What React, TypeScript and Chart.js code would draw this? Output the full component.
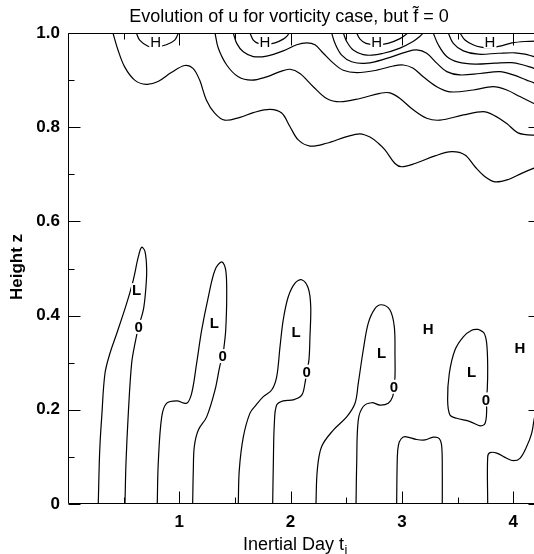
import React, { useEffect, useRef } from "react";
import { Chart, registerables } from "chart.js";
Chart.register(...registerables);

// ---------- text ----------
const chartTitle = "Evolution of u for vorticity case, but f\u0303 = 0";
const xAxisTitle = "Inertial Day t";
const xAxisSub = "i";
const yAxisTitle = "Height z";

// ---------- axes ----------
const xMin = 0;
const xMax = 4.25;
const yMin = 0;
const yMax = 1;
const xTickValues = [1, 2, 3, 4];
const xTickLabels = ["1", "2", "3", "4"];
const xMinorTicks = [0.5, 1.5, 2.5, 3.5];
const yTickValues = [0, 0.2, 0.4, 0.6, 0.8, 1.0];
const yTickLabels = ["0", "0.2", "0.4", "0.6", "0.8", "1.0"];
const yMinorTicks = [0.1, 0.3, 0.5, 0.7, 0.9];

// ---------- contour lines (x = inertial day, y = height) ----------
type P = [number, number];

// upper (positive u) contours
const upperA: P[] = [
  [0.404, 1.0], [0.449, 0.964], [0.509, 0.928], [0.599, 0.9], [0.703, 0.891], [0.809, 0.897],
  [0.928, 0.916], [1.049, 0.931], [1.123, 0.925], [1.183, 0.9], [1.243, 0.858], [1.318, 0.83],
  [1.408, 0.815], [1.545, 0.821], [1.665, 0.831], [1.815, 0.838], [1.92, 0.83], [1.995, 0.801],
  [2.069, 0.773], [2.174, 0.76], [2.324, 0.766], [2.504, 0.78], [2.624, 0.786], [2.713, 0.779],
  [2.788, 0.766], [2.848, 0.752], [2.938, 0.723], [2.998, 0.716], [3.118, 0.723], [3.297, 0.739],
  [3.447, 0.748], [3.567, 0.741], [3.657, 0.716], [3.747, 0.695], [3.836, 0.684], [3.956, 0.689],
  [4.076, 0.702], [4.187, 0.713], [4.25, 0.718],
];
const upperB: P[] = [
  [1.321, 1.0], [1.35, 0.968], [1.426, 0.932], [1.53, 0.907], [1.65, 0.9], [1.785, 0.907],
  [1.905, 0.918], [1.995, 0.923], [2.084, 0.914], [2.204, 0.886], [2.324, 0.861], [2.444, 0.854],
  [2.624, 0.861], [2.803, 0.872], [2.893, 0.873], [2.983, 0.861], [3.102, 0.837], [3.223, 0.819],
  [3.342, 0.815], [3.552, 0.826], [3.731, 0.833], [3.821, 0.826], [3.942, 0.808], [4.043, 0.788],
  [4.187, 0.783], [4.25, 0.786],
];
const upperC: P[] = [
  [1.485, 1.0], [1.516, 0.978], [1.575, 0.96], [1.665, 0.95], [1.785, 0.951], [1.934, 0.962],
  [2.055, 0.975], [2.145, 0.979], [2.219, 0.975], [2.294, 0.957], [2.384, 0.936], [2.473, 0.921],
  [2.594, 0.916], [2.774, 0.921], [2.923, 0.93], [3.013, 0.932], [3.102, 0.925], [3.192, 0.907],
  [3.313, 0.886], [3.432, 0.875], [3.642, 0.879], [3.821, 0.886], [3.942, 0.879], [4.061, 0.865],
  [4.181, 0.851], [4.25, 0.845],
];
const upperD: P[] = [
  [2.369, 1.0], [2.399, 0.978], [2.459, 0.953], [2.549, 0.939], [2.684, 0.936], [2.863, 0.946],
  [3.043, 0.96], [3.133, 0.964], [3.223, 0.957], [3.313, 0.936], [3.403, 0.918], [3.522, 0.911],
  [3.702, 0.914], [3.881, 0.918], [4.001, 0.911], [4.121, 0.9], [4.187, 0.894], [4.25, 0.89],
];
const upperF: P[] = [
  [3.282, 1.0], [3.327, 0.975], [3.403, 0.95], [3.507, 0.938], [3.657, 0.934], [3.836, 0.936],
  [3.987, 0.937], [4.091, 0.932], [4.187, 0.925], [4.25, 0.921],
];
const upperG: P[] = [
  [3.417, 1.0], [3.462, 0.978], [3.552, 0.962], [3.686, 0.955], [3.866, 0.957], [4.016, 0.958],
  [4.106, 0.955], [4.187, 0.95], [4.25, 0.947],
];
const upperH: P[] = [
  [3.522, 1.0], [3.567, 0.985], [3.639, 0.975], [3.711, 0.97], [3.792, 0.969], [3.881, 0.972],
  [3.989, 0.979], [4.106, 0.982], [4.25, 0.983],
];
// arcs closing on the top boundary around each H
const arcH1: P[] = [
  [0.614, 1.0], [0.644, 0.985], [0.719, 0.972], [0.793, 0.97], [0.883, 0.975], [0.959, 0.985], [0.993, 1.0],
];
const arcH2: P[] = [
  [1.635, 1.0], [1.665, 0.985], [1.71, 0.978], [1.779, 0.976], [1.86, 0.979], [1.934, 0.987], [1.97, 0.994], [1.986, 1.0],
];
const arcH3outer: P[] = [
  [2.474, 1.0], [2.504, 0.982], [2.563, 0.964], [2.684, 0.953], [2.833, 0.957], [2.983, 0.968],
  [3.1, 0.982], [3.163, 0.993], [3.19, 1.0],
];
const arcH3inner: P[] = [
  [2.594, 1.0], [2.624, 0.987], [2.677, 0.978], [2.774, 0.975], [2.875, 0.978], [2.983, 0.988], [3.055, 1.0],
];

// lower (zero) contours
const zero1: P[] = [
  [0.272, 0], [0.281, 0.087], [0.288, 0.129], [0.303, 0.185], [0.332, 0.277], [0.377, 0.32],
  [0.438, 0.362], [0.527, 0.426], [0.587, 0.476], [0.632, 0.525], [0.662, 0.545], [0.692, 0.536],
  [0.707, 0.497], [0.698, 0.454], [0.677, 0.412], [0.634, 0.376], [0.602, 0.341], [0.572, 0.299],
  [0.542, 0.193], [0.521, 0.087], [0.512, 0],
];
const zero2: P[] = [
  [0.802, 0], [0.811, 0.087], [0.842, 0.185], [0.887, 0.214], [0.977, 0.219], [1.066, 0.214],
  [1.111, 0.235], [1.156, 0.299], [1.201, 0.369], [1.261, 0.44], [1.321, 0.497], [1.381, 0.514],
  [1.417, 0.497], [1.426, 0.44], [1.417, 0.369], [1.402, 0.334], [1.39, 0.314], [1.366, 0.295],
  [1.321, 0.242], [1.246, 0.185], [1.171, 0.157], [1.135, 0.122], [1.126, 0.072], [1.12, 0],
];
const zero3: P[] = [
  [1.53, 0], [1.539, 0.072], [1.575, 0.142], [1.635, 0.193], [1.689, 0.21], [1.755, 0.228],
  [1.83, 0.242], [1.875, 0.27], [1.905, 0.334], [1.934, 0.391], [1.979, 0.44], [2.04, 0.469],
  [2.1, 0.476], [2.159, 0.458], [2.181, 0.419], [2.174, 0.355], [2.165, 0.306], [2.145, 0.281],
  [2.129, 0.256], [2.1, 0.231], [2.024, 0.221], [1.934, 0.219], [1.875, 0.21], [1.854, 0.171],
  [1.845, 0.086], [1.839, 0],
];
const zero4: P[] = [
  [2.228, 0], [2.24, 0.072], [2.279, 0.122], [2.384, 0.157], [2.504, 0.185], [2.579, 0.214],
  [2.608, 0.256], [2.653, 0.327], [2.698, 0.384], [2.758, 0.415], [2.818, 0.423], [2.893, 0.412],
  [2.932, 0.376], [2.938, 0.313], [2.938, 0.27], [2.929, 0.249], [2.917, 0.228], [2.878, 0.214],
  [2.803, 0.21], [2.729, 0.215], [2.653, 0.207], [2.608, 0.178], [2.594, 0.086], [2.588, 0],
];
const zero5: P[] = [
  [2.953, 0], [2.959, 0.1], [2.969, 0.125], [2.992, 0.138], [3.028, 0.143], [3.133, 0.137],
  [3.208, 0.136], [3.282, 0.142], [3.336, 0.139], [3.358, 0.122], [3.363, 0.065], [3.363, 0],
];
const zero6: P[] = [
  [3.686, 0.371], [3.738, 0.363], [3.762, 0.341], [3.771, 0.292], [3.767, 0.242], [3.756, 0.222],
  [3.762, 0.2], [3.747, 0.171], [3.702, 0.166], [3.612, 0.175], [3.492, 0.182], [3.432, 0.189],
  [3.411, 0.221], [3.426, 0.277], [3.477, 0.327], [3.552, 0.355], [3.627, 0.369], [3.686, 0.371],
];
const zero7: P[] = [
  [3.771, 0], [3.771, 0.1], [3.792, 0.109], [3.852, 0.108], [3.942, 0.097], [4.001, 0.092],
  [4.061, 0.097], [4.121, 0.122], [4.166, 0.15], [4.187, 0.178], [4.223, 0.221],
];

const contourLines: P[][] = [
  upperA, upperB, upperC, upperD, upperF, upperG, upperH,
  arcH1, arcH2, arcH3outer, arcH3inner,
  zero1, zero2, zero3, zero4, zero5, zero6, zero7,
];

// ---------- contour labels ----------
const labelTexts = [
  "H", "H", "H", "H",
  "L", "0", "L", "0", "L", "0", "L", "0", "L", "0",
  "H", "H",
];
const labelXs = [
  0.788, 1.77, 2.774, 3.792,
  0.617, 0.634, 1.314, 1.39, 2.049, 2.145, 2.818, 2.929, 3.627, 3.756,
  3.237, 4.061,
];
const labelYs = [
  0.982, 0.982, 0.982, 0.982,
  0.454, 0.376, 0.384, 0.314, 0.366, 0.281, 0.32, 0.249, 0.281, 0.222,
  0.371, 0.331,
];

const FONT = '"Liberation Sans", Arial, Helvetica, sans-serif';

const decorPlugin = {
  id: "decor",
  afterDatasetsDraw(chart: any) {
    const { ctx, chartArea: a, scales } = chart;
    const xs = scales.x;
    const ys = scales.y;
    ctx.save();
    ctx.strokeStyle = "#000";
    ctx.lineWidth = 1;
    const L = Math.round(a.left) + 0.5;
    const R = Math.round(a.right) - 0.5;
    const T = Math.round(a.top) + 0.5;
    const B = Math.round(a.bottom) - 0.5;
    ctx.beginPath();
    ctx.moveTo(L, T); ctx.lineTo(R, T); ctx.lineTo(R, B); ctx.lineTo(L, B); ctx.closePath();
    ctx.stroke();

    const major = 12;
    const minor = 6;
    ctx.beginPath();
    const xt = (v: number, len: number) => {
      const p = Math.round(xs.getPixelForValue(v)) + 0.5;
      ctx.moveTo(p, B); ctx.lineTo(p, B - len);
      ctx.moveTo(p, T); ctx.lineTo(p, T + len);
    };
    const yt = (v: number, len: number) => {
      const p = Math.round(ys.getPixelForValue(v)) + 0.5;
      ctx.moveTo(L, p); ctx.lineTo(L + len, p);
      ctx.moveTo(R, p); ctx.lineTo(R - len, p);
    };
    xTickValues.forEach((v) => xt(v, major));
    xMinorTicks.forEach((v) => xt(v, minor));
    yTickValues.forEach((v) => yt(v, major));
    yMinorTicks.forEach((v) => yt(v, minor));
    ctx.stroke();

    // contour labels with a white knock-out behind them
    ctx.textAlign = "center";
    ctx.textBaseline = "middle";
    labelTexts.forEach((t, i) => {
      const top = labelYs[i] > 0.9;
      ctx.font = top ? `15px ${FONT}` : `bold 15px ${FONT}`;
      const px = xs.getPixelForValue(labelXs[i]);
      const py = ys.getPixelForValue(labelYs[i]);
      const w = ctx.measureText(t).width;
      ctx.fillStyle = "#fff";
      ctx.fillRect(px - w / 2 - 1, py - 7, w + 2, 14);
      ctx.fillStyle = "#000";
      ctx.fillText(t, px, py + 1);
    });

    // titles
    ctx.fillStyle = "#000";
    ctx.font = `18px ${FONT}`;
    ctx.textAlign = "center";
    ctx.textBaseline = "middle";
    ctx.fillText(chartTitle, 289, 17);

    ctx.save();
    ctx.translate(17.5, 267);
    ctx.rotate(-Math.PI / 2);
    ctx.font = `bold 17px ${FONT}`;
    ctx.fillText(yAxisTitle, 0, 0);
    ctx.restore();

    ctx.font = `18px ${FONT}`;
    const w1 = ctx.measureText(xAxisTitle).width;
    ctx.font = `13px ${FONT}`;
    const w2 = ctx.measureText(xAxisSub).width;
    const start = 295 - (w1 + w2) / 2;
    ctx.textAlign = "left";
    ctx.font = `18px ${FONT}`;
    ctx.fillText(xAxisTitle, start, 545);
    ctx.font = `13px ${FONT}`;
    ctx.fillText(xAxisSub, start + w1 + 0.5, 550);
    ctx.restore();
  },
};

export default function App() {
  const ref = useRef<HTMLCanvasElement | null>(null);
  useEffect(() => {
    if (!ref.current) return;
    const tickFont = { family: FONT, size: 17, weight: "bold" as const };
    const chart = new Chart(ref.current, {
      type: "line",
      data: {
        datasets: contourLines.map((c) => ({
          data: c.map(([x, y]) => ({ x, y })),
          borderColor: "#000",
          borderWidth: 1.2,
          pointRadius: 0,
          fill: false,
          tension: 0.35,
        })),
      },
      options: {
        animation: false,
        responsive: false,
        devicePixelRatio: 1,
        layout: { padding: { top: 33, right: 4, left: 0, bottom: 0 } },
        plugins: {
          legend: { display: false },
          title: { display: false },
          tooltip: { enabled: false },
        },
        scales: {
          x: {
            type: "linear",
            min: xMin,
            max: xMax,
            grid: { display: false, drawTicks: false },
            border: { display: false },
            afterBuildTicks: (s: any) => {
              s.ticks = xTickValues.map((v) => ({ value: v }));
            },
            afterFit: (s: any) => {
              s.height = 50;
            },
            ticks: {
              autoSkip: false,
              maxRotation: 0,
              padding: 8,
              color: "#000",
              font: tickFont,
              callback: (v: any) => {
                const i = xTickValues.indexOf(Number(v));
                return i >= 0 ? xTickLabels[i] : "";
              },
            },
          },
          y: {
            type: "linear",
            min: yMin,
            max: yMax,
            grid: { display: false, drawTicks: false },
            border: { display: false },
            afterBuildTicks: (s: any) => {
              s.ticks = yTickValues.map((v) => ({ value: v }));
            },
            afterFit: (s: any) => {
              s.width = 68;
            },
            ticks: {
              autoSkip: false,
              padding: 8,
              color: "#000",
              font: tickFont,
              callback: (v: any) => {
                const i = yTickValues.indexOf(Number(v));
                return i >= 0 ? yTickLabels[i] : "";
              },
            },
          },
        },
      },
      plugins: [decorPlugin],
    } as any);
    return () => chart.destroy();
  }, []);
  return (
    <div
      style={{
        position: "fixed",
        left: 0,
        top: 0,
        width: 534,
        height: 554,
        overflow: "hidden",
        background: "#fff",
      }}
    >
      <canvas ref={ref} width={545} height={554} style={{ display: "block", width: 545, height: 554 }} />
    </div>
  );
}
